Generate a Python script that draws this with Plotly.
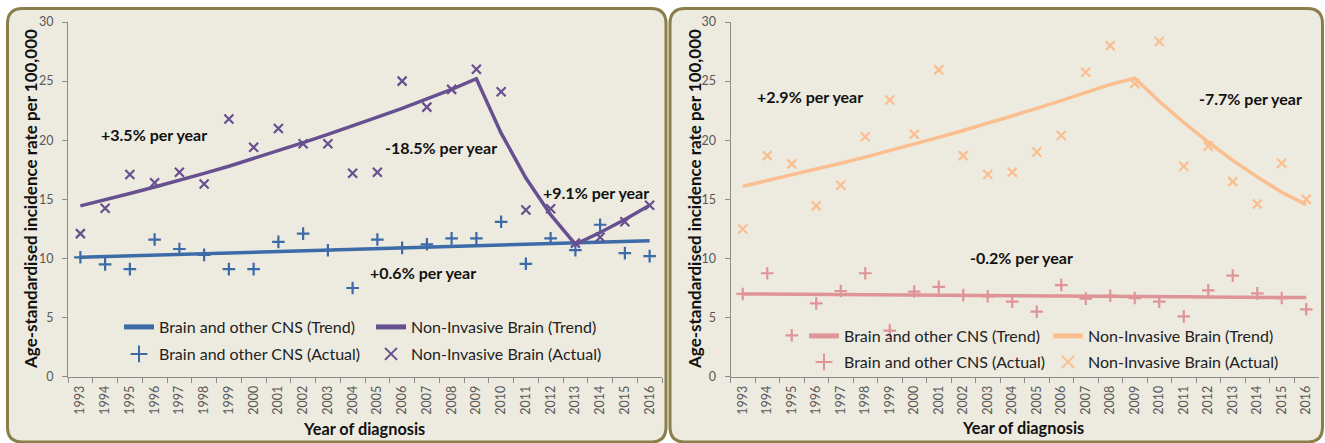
import plotly.graph_objects as go

W, H = 1325, 443

years = ["1993", "1994", "1995", "1996", "1997", "1998", "1999", "2000", "2001", "2002", "2003", "2004",
         "2005", "2006", "2007", "2008", "2009", "2010", "2011", "2012", "2013", "2014", "2015", "2016"]

# Left panel
left_cns_trend = [10.10, 10.16, 10.22, 10.28, 10.34, 10.40, 10.46, 10.52, 10.58, 10.65, 10.71, 10.77,
                  10.83, 10.89, 10.95, 11.01, 11.07, 11.13, 11.19, 11.25, 11.31, 11.38, 11.44, 11.50]
left_cns_actual = [10.1, 9.5, 9.1, 11.6, 10.8, 10.3, 9.1, 9.1, 11.4, 12.1, 10.7, 7.5,
                   11.6, 10.9, 11.2, 11.7, 11.7, 13.1, 9.55, 11.7, 10.7, 12.85, 10.45, 10.2]
left_ni_trend = [14.45, 14.95, 15.5, 16.05, 16.6, 17.2, 17.8, 18.45, 19.1, 19.8, 20.5, 21.2,
                 21.95, 22.7, 23.5, 24.3, 25.2, 20.6, 16.8, 13.7, 11.2, 12.2, 13.3, 14.5]
left_ni_actual = [12.1, 14.25, 17.1, 16.4, 17.3, 16.3, 21.8, 19.4, 21.0, 19.7, 19.7, 17.2,
                  17.3, 25.0, 22.8, 24.3, 26.0, 24.1, 14.1, 14.2, 11.3, 11.8, 13.1, 14.5]

# Right panel
right_cns_trend = [7.00, 6.99, 6.97, 6.96, 6.94, 6.93, 6.92, 6.90, 6.89, 6.88, 6.86, 6.85,
                   6.84, 6.82, 6.81, 6.80, 6.78, 6.77, 6.76, 6.74, 6.73, 6.72, 6.70, 6.69]
right_cns_actual = [7.0, 8.75, 3.5, 6.2, 7.25, 8.75, 3.9, 7.2, 7.6, 6.9, 6.8, 6.35,
                    5.5, 7.75, 6.6, 6.85, 6.65, 6.35, 5.1, 7.3, 8.55, 7.05, 6.65, 5.7]
right_ni_trend = [16.1, 16.57, 17.05, 17.54, 18.05, 18.57, 19.11, 19.67, 20.24, 20.82, 21.43, 22.05,
                  22.69, 23.35, 24.02, 24.72, 25.25, 23.3, 21.5, 19.85, 18.3, 16.9, 15.6, 14.55]
right_ni_actual = [12.5, 18.7, 18.0, 14.45, 16.2, 20.3, 23.4, 20.5, 25.95, 18.7, 17.1, 17.3,
                   19.0, 20.4, 25.75, 28.0, 24.8, 28.35, 17.8, 19.5, 16.5, 14.6, 18.05, 15.0]

series_names = ["Brain and other CNS (Trend)", "Non-Invasive Brain (Trend)",
                "Brain and other CNS (Actual)", "Non-Invasive Brain (Actual)"]

# (text, x category index, y value)
left_labels = [("+3.5% per year", 2.99, 20.5), ("-18.5% per year", 14.59, 19.35),
               ("+9.1% per year", 20.82, 15.58), ("+0.6% per year", 13.86, 8.82)]
right_labels = [("+2.9% per year", 2.76, 23.7), ("-7.7% per year", 20.73, 23.5),
                ("-0.2% per year", 11.38, 10.1)]

FONT = "Lato"
BLUE, PURPLE = "#3C6BA7", "#67508F"
PINK, ORANGE = "#DF9497", "#FBBF8F"
BORDER, PANEL = "#8A7E4B", "#EDEAE0"
AXIS = "#8C8C8C"
TICK = "#595959"


def px(x):
    return x / W


def py(y):
    return 1 - y / H


fig = go.Figure()


def add_panel(xa, ya, cns_trend, ni_trend, cns_actual, ni_actual, c_cns, c_ni, lg1, lg2):
    xs = "x" if xa == 1 else "x%d" % xa
    ys = "y" if ya == 1 else "y%d" % ya
    fig.add_trace(go.Scatter(x=years, y=cns_trend, mode="lines", name=series_names[0],
                             line=dict(color=c_cns, width=3.5), xaxis=xs, yaxis=ys, legend=lg1))
    fig.add_trace(go.Scatter(x=years, y=ni_trend, mode="lines", name=series_names[1],
                             line=dict(color=c_ni, width=3.5), xaxis=xs, yaxis=ys, legend=lg1))
    fig.add_trace(go.Scatter(x=years, y=cns_actual, mode="markers", name=series_names[2],
                             marker=dict(symbol="cross-thin", size=9, line=dict(color=c_cns, width=2.2)),
                             xaxis=xs, yaxis=ys, legend=lg2))
    fig.add_trace(go.Scatter(x=years, y=ni_actual, mode="markers", name=series_names[3],
                             marker=dict(symbol="x-thin", size=9, line=dict(color=c_ni, width=2.2)),
                             xaxis=xs, yaxis=ys, legend=lg2))


add_panel(1, 1, left_cns_trend, left_ni_trend, left_cns_actual, left_ni_actual, BLUE, PURPLE, "legend", "legend2")
add_panel(2, 2, right_cns_trend, right_ni_trend, right_cns_actual, right_ni_actual, PINK, ORANGE, "legend3", "legend4")


def rrect(x0, y0, x1, y1, r):
    pts = [
        ("M", x0 + r, y0), ("L", x1 - r, y0), ("Q", x1, y0, x1, y0 + r), ("L", x1, y1 - r),
        ("Q", x1, y1, x1 - r, y1), ("L", x0 + r, y1), ("Q", x0, y1, x0, y1 - r), ("L", x0, y0 + r),
        ("Q", x0, y0, x0 + r, y0)]
    out = []
    for p in pts:
        if p[0] == "Q":
            out.append("Q%.5f,%.5f %.5f,%.5f" % (px(p[1]), py(p[2]), px(p[3]), py(p[4])))
        else:
            out.append("%s%.5f,%.5f" % (p[0], px(p[1]), py(p[2])))
    return " ".join(out) + " Z"


shapes = [
    dict(type="path", xref="paper", yref="paper", path=rrect(7.5, 8.5, 666, 442, 15),
         fillcolor=PANEL, line=dict(color=BORDER, width=3), layer="below"),
    dict(type="path", xref="paper", yref="paper", path=rrect(670, 8.5, 1322.5, 442, 15),
         fillcolor=PANEL, line=dict(color=BORDER, width=3), layer="below"),
]

axis_common = dict(showgrid=False, zeroline=False, showline=True, linecolor=AXIS, linewidth=1,
                   automargin=False,
                   ticks="outside", ticklen=5, tickcolor=AXIS, tickfont=dict(family=FONT, size=12.5, color=TICK))

xaxis_common = dict(axis_common, type="category", range=[-0.5, 23.5], tickangle=-90, tickson="boundaries",
                    ticklabelstandoff=3)
yaxis_common = dict(axis_common, range=[0, 30], tickvals=[0, 5, 10, 15, 20, 25, 30], ticklabelstandoff=6)

ydom = [py(376.7), py(22)]

TXT = "#111111"
annotations = []
for t, x, y in left_labels:
    annotations.append(dict(text="<b>%s</b>" % t, x=x, y=y, xref="x", yref="y", showarrow=False,
                            xanchor="center", yanchor="middle",
                            font=dict(family=FONT, size=16, color=TXT)))
for t, x, y in right_labels:
    annotations.append(dict(text="<b>%s</b>" % t, x=x, y=y, xref="x2", yref="y2", showarrow=False,
                            xanchor="center", yanchor="middle",
                            font=dict(family=FONT, size=16, color=TXT)))

ytitle = "Age-standardised incidence rate per 100,000"
xtitle = "Year of diagnosis"
for cx, cy in [(30, 199), (694, 199)]:
    annotations.append(dict(text="<b>%s</b>" % ytitle, x=px(cx), y=py(cy), xref="paper", yref="paper",
                            showarrow=False, textangle=-90, xanchor="center", yanchor="middle",
                            font=dict(family=FONT, size=17, color=TXT)))
for cx, cy in [(364, 428), (1023, 427)]:
    annotations.append(dict(text="<b>%s</b>" % xtitle, x=px(cx), y=py(cy), xref="paper", yref="paper",
                            showarrow=False, xanchor="center", yanchor="middle",
                            font=dict(family=FONT, size=16.3, color=TXT)))

legend_common = dict(orientation="h", xanchor="left", yanchor="middle", bgcolor="rgba(0,0,0,0)",
                     font=dict(family=FONT, size=16, color="#222222"), entrywidthmode="pixels",
                     itemsizing="constant", tracegroupgap=0)

fig.update_layout(
    width=W, height=H,
    autosize=False,
    margin=dict(l=0, r=0, t=0, b=0, autoexpand=False),
    paper_bgcolor="white", plot_bgcolor="rgba(0,0,0,0)",
    showlegend=True,
    xaxis=dict(xaxis_common, domain=[px(68), px(662)], anchor="y"),
    yaxis=dict(yaxis_common, domain=ydom, anchor="x"),
    xaxis2=dict(xaxis_common, domain=[px(730.5), px(1318.5)], anchor="y2"),
    yaxis2=dict(yaxis_common, domain=ydom, anchor="x2"),
    legend=dict(legend_common, x=px(119), y=py(327), entrywidth=207),
    legend2=dict(legend_common, x=px(119), y=py(354), entrywidth=207),
    legend3=dict(legend_common, x=px(804), y=py(336), entrywidth=199),
    legend4=dict(legend_common, x=px(804), y=py(362), entrywidth=199),
    shapes=shapes,
    annotations=annotations,
    font=dict(family=FONT),
)

page_css = ("var s=document.createElement('style');"
            "s.textContent='html,body{margin:0;padding:0;overflow:hidden;}';"
            "document.head.appendChild(s);")

fig.write_html("out.html", config={"displayModeBar": False}, post_script=page_css)
